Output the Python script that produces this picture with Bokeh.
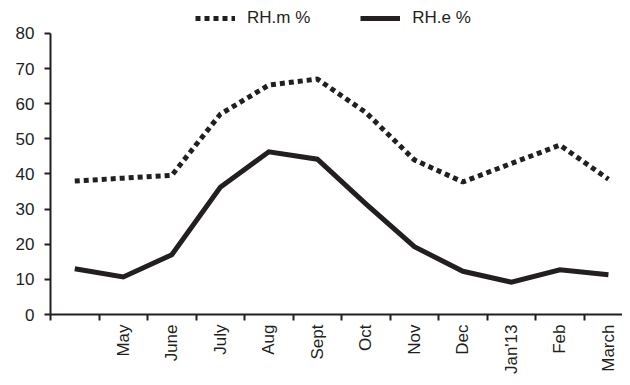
import math
from bokeh.plotting import figure
from bokeh.models import FixedTicker, Legend, LegendItem, Range1d
from bokeh.embed import file_html
from bokeh.resources import INLINE

months = ["", "May", "June", "July", "Aug", "Sept", "Oct", "Nov", "Dec", "Jan'13", "Feb", "March"]
rh_m = [38, 38.8, 39.6, 57, 65.3, 67, 57.5, 44, 37.7, 43, 48.2, 38.5]
rh_e = [13, 10.7, 17, 36.2, 46.3, 44.2, 31.5, 19.3, 12.3, 9.2, 12.7, 11.3]
yticks = [0, 10, 20, 30, 40, 50, 60, 70, 80]

FONT = "Liberation Sans"
INK = "#231f20"

xs = [i + 0.5 for i in range(len(months))]

p = figure(width=622, height=377, output_backend="svg", toolbar_location=None,
           x_range=Range1d(0, 11.79), y_range=Range1d(0, 89.36),
           min_border_left=50, min_border_right=0, min_border_top=0, min_border_bottom=62)
p.outline_line_color = None
p.xgrid.grid_line_color = None
p.ygrid.grid_line_color = None
p.background_fill_color = "white"
p.border_fill_color = "white"

lm = p.line(xs, rh_m, line_color=INK, line_width=5, line_dash="5 4", line_cap="butt")
le = p.line(xs, rh_e, line_color=INK, line_width=5, line_join="miter")

# x axis: ticks at category boundaries, labels at centres
p.xaxis.ticker = FixedTicker(ticks=xs, minor_ticks=list(range(0, len(months) + 1)))
p.xaxis.major_label_overrides = {x: m for x, m in zip(xs, months)}
p.xaxis.major_tick_out = 0
p.xaxis.major_tick_in = 0
p.xaxis.minor_tick_out = 6
p.xaxis.minor_tick_in = 0
p.xaxis.major_label_orientation = math.pi / 2
p.xaxis.major_label_standoff = 4

p.yaxis.ticker = FixedTicker(ticks=yticks)
p.yaxis.bounds = (0, 80)
p.yaxis.major_tick_out = 6
p.yaxis.major_tick_in = 0
p.yaxis.major_label_standoff = 10

for ax in (p.xaxis, p.yaxis):
    ax.axis_line_color = INK
    ax.axis_line_width = 2
    ax.major_tick_line_color = INK
    ax.major_tick_line_width = 2
    ax.minor_tick_line_width = 2
    ax.major_label_text_font = FONT
    ax.major_label_text_font_size = "17px"
    ax.major_label_text_color = INK
p.xaxis.minor_tick_line_color = INK
p.yaxis.minor_tick_line_color = None

legend = Legend(items=[LegendItem(label="RH.m %", renderers=[lm]),
                       LegendItem(label="RH.e %", renderers=[le])],
                orientation="horizontal", location=(145, 286),
                label_text_font=FONT, label_text_font_size="17px", label_text_color=INK,
                glyph_width=40, glyph_height=20, label_standoff=12, spacing=50,
                padding=0, margin=0, border_line_color=None, background_fill_alpha=0)
p.add_layout(legend)

open("out.html", "w").write(file_html(p, INLINE))
